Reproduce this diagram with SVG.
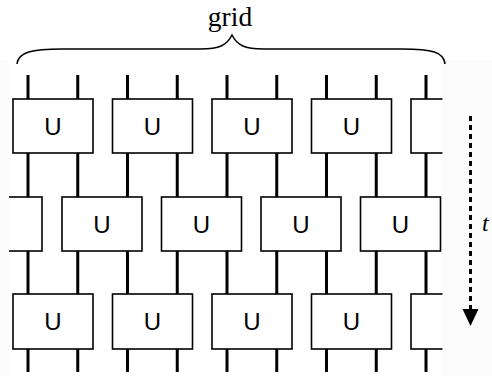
<svg xmlns="http://www.w3.org/2000/svg" width="492" height="376" viewBox="0 0 492 376">
<defs>
<style>
.box{fill:#fff;stroke:#000;stroke-width:1.6}
.w{stroke:#000;stroke-width:3;fill:none}
.u{font-family:"Liberation Sans",Arial,sans-serif;font-size:24px;text-anchor:middle;fill:#000}
.br{fill:none;stroke:#000;stroke-width:1.5}
</style>
<clipPath id="gc"><rect x="9" y="0" width="433.5" height="376"/></clipPath>
</defs>
<rect width="492" height="376" fill="#fbfbfb"/>
<rect x="0" y="0" width="492" height="60" fill="#fff"/>
<rect x="9" y="60" width="433.5" height="316" fill="#fff"/>
<text x="230" y="25.5" font-family="Liberation Serif,'Times New Roman',serif" font-size="27.5" text-anchor="middle">grid</text>
<path class="br" d="M17,64 C18,52 32,49 62,49 L200,49 C220,49 227,45 232,35 C237,45 244,49 264,49 L402,49 C432,49 444,52 445,64"/>
<g clip-path="url(#gc)">
<g id="connectors">
<path class="w" d="M28,75V99M77.75,75V99M127.5,75V99M177.25,75V99M227,75V99M276.75,75V99M326.5,75V99M376.25,75V99M426,75V99"/>
<path class="w" d="M28,153V197M77.75,153V197M127.5,153V197M177.25,153V197M227,153V197M276.75,153V197M326.5,153V197M376.25,153V197M426,153V197"/>
<path class="w" d="M28,250V294M77.75,250V294M127.5,250V294M177.25,250V294M227,250V294M276.75,250V294M326.5,250V294M376.25,250V294M426,250V294"/>
<path class="w" d="M28,348V372M77.75,348V372M127.5,348V372M177.25,348V372M227,348V372M276.75,348V372M326.5,348V372M376.25,348V372M426,348V372"/>
</g>
<g id="r1u1"><rect class="box" x="13" y="99" width="80" height="54"/><text class="u" x="53" y="135">U</text></g>
<g id="r1u2"><rect class="box" x="112.5" y="99" width="80" height="54"/><text class="u" x="152.5" y="135">U</text></g>
<g id="r1u3"><rect class="box" x="212" y="99" width="80" height="54"/><text class="u" x="252" y="135">U</text></g>
<g id="r1u4"><rect class="box" x="311.5" y="99" width="80" height="54"/><text class="u" x="351.5" y="135">U</text></g>
<g id="r1u5"><rect class="box" x="411" y="99" width="80" height="54"/></g>
<g id="r2u0"><rect class="box" x="-38" y="197" width="80" height="54"/></g>
<g id="r2u1"><rect class="box" x="62" y="197" width="80" height="54"/><text class="u" x="102" y="233">U</text></g>
<g id="r2u2"><rect class="box" x="161.5" y="197" width="80" height="54"/><text class="u" x="201.5" y="233">U</text></g>
<g id="r2u3"><rect class="box" x="261" y="197" width="80" height="54"/><text class="u" x="301" y="233">U</text></g>
<g id="r2u4"><rect class="box" x="360.5" y="197" width="80" height="54"/><text class="u" x="400.5" y="233">U</text></g>
<g id="r3u1"><rect class="box" x="13" y="294" width="80" height="55"/><text class="u" x="53" y="330">U</text></g>
<g id="r3u2"><rect class="box" x="112.5" y="294" width="80" height="55"/><text class="u" x="152.5" y="330">U</text></g>
<g id="r3u3"><rect class="box" x="212" y="294" width="80" height="55"/><text class="u" x="252" y="330">U</text></g>
<g id="r3u4"><rect class="box" x="311.5" y="294" width="80" height="55"/><text class="u" x="351.5" y="330">U</text></g>
<g id="r3u5"><rect class="box" x="411" y="294" width="80" height="55"/></g>
</g>
<g id="time">
<path d="M470.5,116V310" stroke="#000" stroke-width="3" stroke-dasharray="5 4"/>
<polygon points="462.5,309 478.5,309 470.5,326" fill="#000"/>
<text x="482" y="231" font-family="Liberation Serif,'Times New Roman',serif" font-size="24" font-style="italic">t</text>
</g>
</svg>
